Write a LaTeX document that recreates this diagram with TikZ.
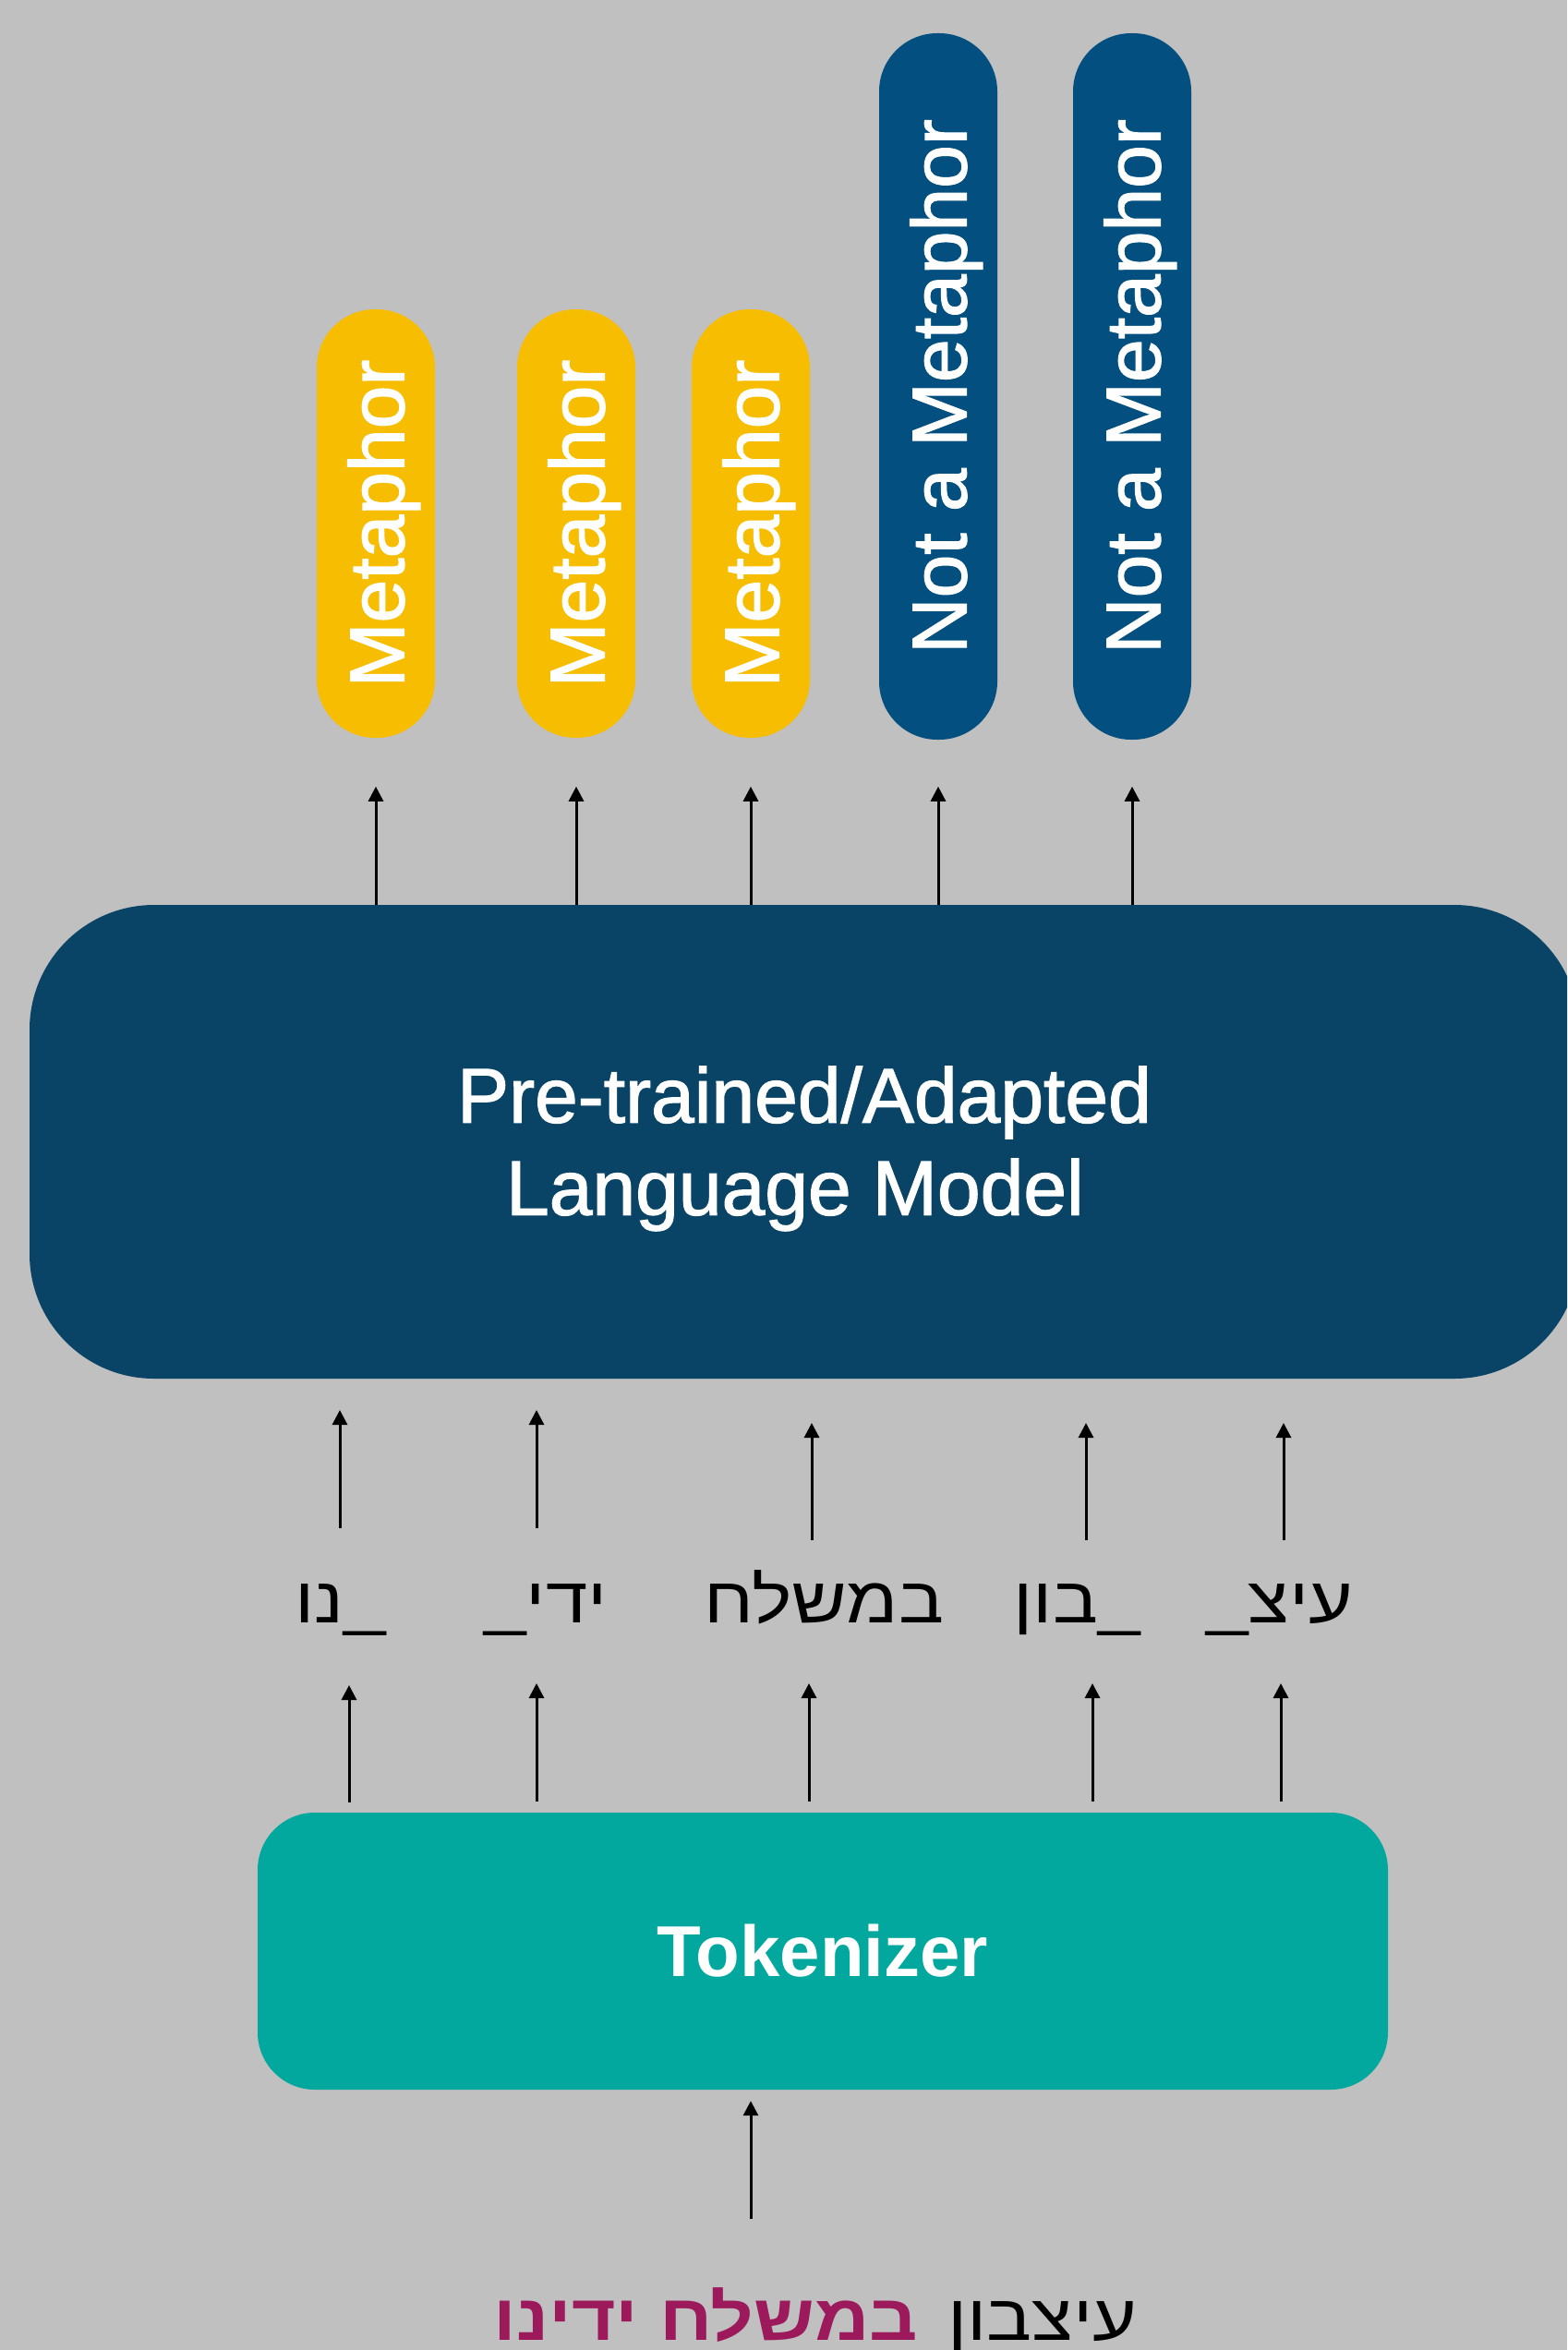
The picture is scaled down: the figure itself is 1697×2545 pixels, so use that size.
\documentclass[tikz,border=0pt]{standalone}
\usepackage{fontspec}
\usepackage{graphicx}
\setmainfont{Liberation Sans}
\newfontfamily\medfont[FakeBold=1.5]{Liberation Sans}
\newfontfamily\hebfont[Script=Hebrew,FakeStretch=1.17]{Liberation Sans}
\TeXXeTstate=1
\usetikzlibrary{arrows.meta,calc}
\definecolor{bgc}{HTML}{C0C0C0}
\definecolor{yel}{HTML}{F7BD00}
\definecolor{pblue}{HTML}{024F80}
\definecolor{mblue}{HTML}{094466}
\definecolor{teal2}{HTML}{02A89D}
\definecolor{purp}{HTML}{9C1A5C}
\newcommand{\lblfont}{\medfont\fontsize{84}{100}\selectfont}
\newcommand{\nodepth}[1]{\raisebox{0pt}[\height][0pt]{#1}}
\tikzset{
  pill/.style={rectangle, rounded corners=63pt, minimum width=128pt, inner sep=0pt, text=white, font=\lblfont},
  pillY/.style={pill, fill=yel, minimum height=464pt},
  pillB/.style={pill, fill=pblue, minimum height=765pt},
  arr/.style={line width=3pt, -{Triangle[width=16pt,length=16pt]}, black},
  tok/.style={inner sep=0pt, font=\hebfont\fontsize{70}{84}\selectfont},
}
\begin{document}
\begin{tikzpicture}[x=1pt,y=-1pt]
\useasboundingbox (0,0) rectangle (1697,2545);
\clip (0,0) rectangle (1697,2545);
\fill[bgc] (0,0) rectangle (1697,2545);

% output pills
\node[pillY] (m1) at (407,567) {\rotatebox{90}{\nodepth{Metaphor}}};
\node[pillY] (m2) at (624,567) {\rotatebox{90}{\nodepth{Metaphor}}};
\node[pillY] (m3) at (813,567) {\rotatebox{90}{\nodepth{Metaphor}}};
\node[pillB] (n1) at (1016,418.5) {\rotatebox{90}{\nodepth{Not a Metaphor}}};
\node[pillB] (n2) at (1226,418.5) {\rotatebox{90}{\nodepth{Not a Metaphor}}};

% language model
\node[rectangle, rounded corners=135pt, fill=mblue, minimum width=1678pt, minimum height=513pt, inner sep=0pt] (lm) at (871,1236.5) {};
\node[text=white, align=center, font=\lblfont, inner sep=0pt] (lmtext) at (871,1244) {Pre-trained/Adapted\\Language Model\hspace*{20pt}};

% arrows LM -> labels
\foreach \p in {m1,m2,m3,n1,n2}{
  \draw[arr] (lm.north -| \p) -- ($(lm.north -| \p)+(0,-128)$);
}

% tokens
\node[tok, anchor=base] (t1) at (369,1757) {\beginR\hbox{\_}נו\endR};
\node[tok, anchor=base] (t2) at (591,1757) {\beginR ידי\hbox{\_}\endR};
\node[tok, anchor=base] (t3) at (892,1757) {\beginR במשלח\endR};
\node[tok, anchor=base] (t4) at (1166,1757) {\beginR\hbox{\_}בון\endR};
\node[tok, anchor=base] (t5) at (1386,1757) {\beginR עיצ\hbox{\_}\endR};

% arrows tokens -> LM
\coordinate (ua1) at (368,1655); \coordinate (ub1) at (368,1527);
\coordinate (ua2) at (581,1655); \coordinate (ub2) at (581,1527);
\coordinate (ua3) at (879,1668); \coordinate (ub3) at (879,1541);
\coordinate (ua4) at (1176,1668); \coordinate (ub4) at (1176,1541);
\coordinate (ua5) at (1390,1668); \coordinate (ub5) at (1390,1541);
\foreach \i in {1,...,5}{ \draw[arr] (ua\i) -- (ub\i); }

% tokenizer
\node[rectangle, rounded corners=62pt, fill=teal2, minimum width=1224pt, minimum height=300pt, inner sep=0pt, text=white, font=\bfseries\fontsize{78}{94}\selectfont] (tk) at (891,2113) {Tokenizer};

% arrows tokenizer -> tokens
\coordinate (la1) at (378,1952); \coordinate (lb1) at (378,1825);
\coordinate (la2) at (581,1951); \coordinate (lb2) at (581,1823);
\coordinate (la3) at (876,1951); \coordinate (lb3) at (876,1823);
\coordinate (la4) at (1183,1951); \coordinate (lb4) at (1183,1823);
\coordinate (la5) at (1387,1951); \coordinate (lb5) at (1387,1823);
\foreach \i in {1,...,5}{ \draw[arr] (la\i) -- (lb\i); }

% input sentence (right part black, left part purple bold)
\node[tok, anchor=base east, text=purp, font=\hebfont\bfseries\fontsize{70}{84}\selectfont] (sentP) at (994,2534) {\beginR במשלח ידינו\endR};
\node[tok, anchor=base west, text=black] (sentB) at ([xshift=32pt]sentP.base east) {\beginR עיצבון\endR};
\coordinate (sa) at (813,2403);
\draw[arr] (sa) -- ($(tk.south -| sa)+(0,12)$);
\end{tikzpicture}
\end{document}
